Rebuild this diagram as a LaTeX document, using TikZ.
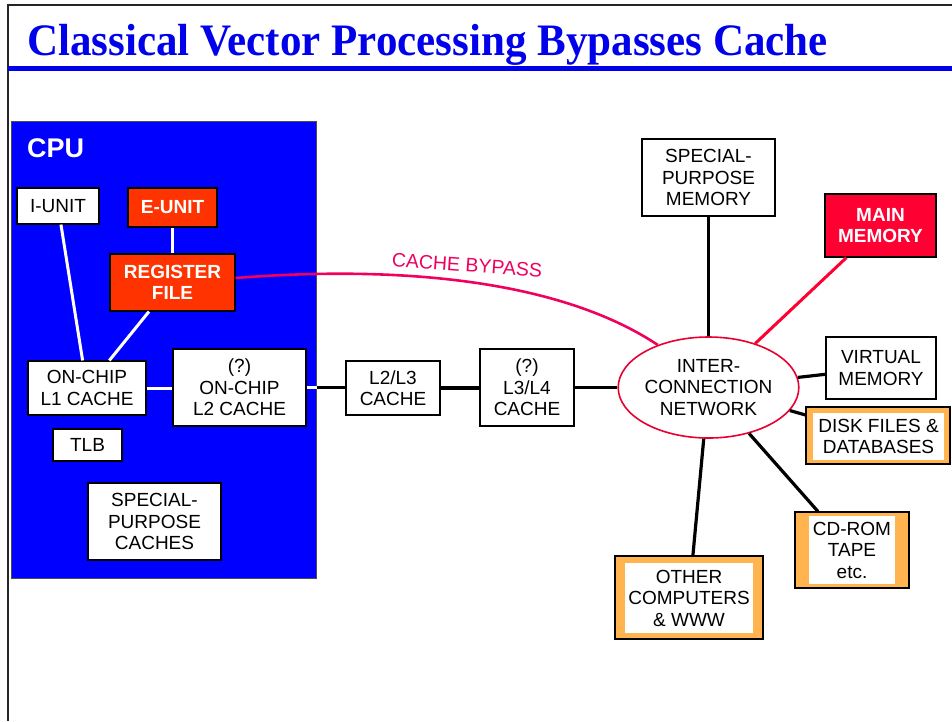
\documentclass[tikz,border=0pt]{standalone}
\usepackage{fontspec}
\setmainfont{Liberation Sans}
\newfontfamily\titlefont{Liberation Serif}
\usetikzlibrary{shapes.geometric,calc}
\definecolor{cpublue}{RGB}{0,0,255}
\definecolor{titleblue}{RGB}{0,0,235}
\definecolor{regred}{RGB}{255,51,0}
\definecolor{mainred}{RGB}{255,0,51}
\definecolor{netred}{RGB}{232,0,50}
\definecolor{bypass}{RGB}{240,0,95}
\definecolor{orangefill}{RGB}{255,180,80}
\begin{document}
\begin{tikzpicture}[x=1pt,y=-1pt,
  lbl/.style={font=\fontsize{19}{21.5}\selectfont},
  wbox/.style={draw=black, line width=1.1pt, fill=white, inner sep=0pt, align=center, lbl},
  rbox/.style={draw=black, line width=1.1pt, fill=regred, text=white, inner sep=0pt, align=center, font=\fontsize{19}{21.5}\selectfont\bfseries},
  obox/.style={draw=black, line width=1.1pt, fill=orangefill, inner sep=0pt},
  ibox/.style={fill=white, inner sep=0pt, align=center, lbl},
  wline/.style={draw=white, line width=3pt},
  bline/.style={draw=black, line width=3.2pt},
  rline/.style={draw=mainred, line width=3pt}
]
\useasboundingbox[fill=white] (0,0) rectangle (952,721);
% frame and title
\draw[line width=2pt, black!85] (8,721) -- (8,5) -- (952,5);
\draw[line width=5pt, titleblue] (8,68.5) -- (952,68.5);
\node[anchor=base west, inner sep=0pt, text=titleblue, font={\titlefont\bfseries\fontsize{45}{50}\selectfont}] (title) at (27,55) {\scalebox{0.956}[1]{Classical Vector Processing Bypasses Cache}};

% CPU box
\node[draw=black!70, line width=1pt, fill=cpublue, minimum width=305pt, minimum height=457pt, inner sep=0pt] (cpu) at (163.5,349.5) {};
\node[anchor=base west, inner sep=0pt, text=white, font=\fontsize{27}{30}\selectfont\bfseries] (cpulbl) at (27,157) {CPU};

\node[wbox, minimum width=82pt, minimum height=36pt] (iunit) at (58,206) {I-UNIT};
\node[rbox, minimum width=89pt, minimum height=39pt] (eunit) at (172.5,207.5) {E-UNIT};
\node[rbox, minimum width=125pt, minimum height=57pt] (reg) at (172.5,282.5) {REGISTER\\FILE};
\node[wbox, minimum width=118pt, minimum height=54pt] (l1) at (87,388) {ON-CHIP\\L1 CACHE};
\node[wbox, minimum width=133pt, minimum height=77pt] (l2) at (239.5,387.5) {(?)\\ON-CHIP\\L2 CACHE};
\node[wbox, minimum width=69pt, minimum height=32pt] (tlb) at (87.5,445) {TLB};
\node[wbox, minimum width=133pt, minimum height=77pt] (spc) at (154.5,521.5) {SPECIAL-\\PURPOSE\\CACHES};

% outside caches
\node[wbox, minimum width=94pt, minimum height=54pt] (l23) at (393,388) {L2/L3\\CACHE};
\node[wbox, minimum width=94pt, minimum height=77pt] (l34) at (527,387.5) {(?)\\L3/L4\\CACHE};

% network
\node[ellipse, draw=netred, line width=1.6pt, fill=white, minimum width=167pt, minimum height=101pt, inner sep=0pt, align=center, lbl] (net) at (708.5,387.5) {INTER-\\CONNECTION\\NETWORK};

% memories
\node[wbox, minimum width=133pt, minimum height=77pt] (spm) at (708.5,177.5) {SPECIAL-\\PURPOSE\\MEMORY};
\node[draw=black, line width=1.1pt, fill=mainred, text=white, inner sep=0pt, align=center, font=\fontsize{19}{21.5}\selectfont\bfseries, minimum width=111pt, minimum height=63pt] (mm) at (880.5,225.5) {MAIN\\MEMORY};
\node[wbox, minimum width=110pt, minimum height=62pt] (vm) at (881,368) {VIRTUAL\\MEMORY};

\node[obox, minimum width=144pt, minimum height=57pt] (dsk) at (878,435.5) {};
\node[ibox, minimum width=131pt, minimum height=47pt] (dskin) at (878.5,436.5) {DISK FILES \&\\DATABASES};
\node[obox, minimum width=114pt, minimum height=76pt] (cdr) at (852,550) {};
\node[ibox, minimum width=86pt, minimum height=68pt] (cdrin) at (852,550) {CD-ROM\\TAPE\\etc.};
\node[obox, minimum width=148pt, minimum height=83pt] (oth) at (689,597.5) {};
\node[ibox, minimum width=128pt, minimum height=70pt] (othin) at (689,598) {OTHER\\COMPUTERS\\\& WWW};

% connectors inside CPU
\draw[wline] (iunit) -- (l1);
\draw[wline] (eunit) -- (reg);
\draw[wline] (reg) -- (l1);
\draw[wline] (l1.east) -- (l1.east -| l2.west);
\coordinate (cpuedge) at (cpu.east |- l2.east);
\draw[wline] (l2.east) -- (cpuedge);
\draw[bline] (cpuedge) -- (l23.west |- cpuedge);
\draw[bline] (l23.east) -- (l23.east -| l34.west);
\draw[bline] (l34.east) -- (net.west);

% network connectors
\draw[bline] (spm) -- (net);
\draw[rline] (mm) -- (net);
\draw[bline] (vm) -- (net);
\draw[bline] (dsk) -- (net);
\draw[bline] (cdr) -- (net);
\draw[bline] (oth) -- (net);

% cache bypass
\draw[draw=bypass, line width=2.6pt] ($(reg.east)+(0,-4.5)$) .. controls (400,265) and (560,280) .. (net.140);
\node[text=bypass, rotate=-4, inner sep=0pt, font=\fontsize{19.5}{21}\selectfont] (bplbl) at (467,265) {CACHE BYPASS};
\end{tikzpicture}
\end{document}
